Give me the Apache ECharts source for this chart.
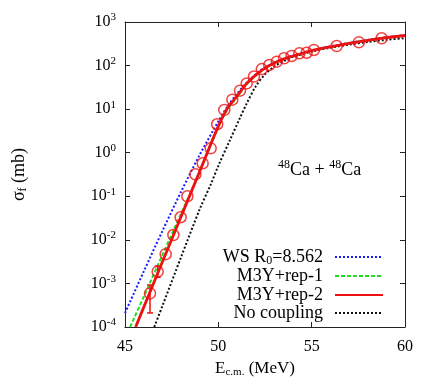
<!DOCTYPE html>
<html><head><meta charset="utf-8">
<script src="https://cdn.jsdelivr.net/npm/echarts@6/dist/echarts.min.js"></script>
<style>html,body{margin:0;padding:0;background:#fff}#c{width:436px;height:382px}</style>
</head><body><div id="c"></div>
<script>
// Experimental data: E (MeV), sigma (mb)
var expE = [46.34,46.75,47.18,47.59,47.98,48.34,48.77,49.16,49.59,49.94,50.32,50.75,51.16,51.52,51.91,52.33,52.73,53.13,53.52,53.93,54.34,54.73,55.12,56.34,57.53,58.75];
var expSig = [5.9e-4,1.86e-3,4.7e-3,0.0129,0.033,0.10,0.32,0.57,1.26,4.5,9.6,16.5,26.5,39,56,83,103,123,147,166,191,197,228,281,342,423];
// error bars (only visible ones)
var errE = [46.34, 46.75];
var errLow = [2.1e-4, 1.38e-3];
var errHigh = [9.2e-4, 2.5e-3];

// Curves: energies and log10(sigma)
var wsE   = [45,46,47,48,49,50,50.5,51,51.5,52,52.5,53,53.5,54,55,56,57,58,59,60];
var wsLog = [-3.68,-2.73,-1.80,-0.90,-0.05,0.72,1.07,1.35,1.6,1.8,1.96,2.07,2.16,2.23,2.35,2.44,2.52,2.59,2.65,2.70];
var m1E   = [45.27,46,47,48,48.5,49,49.5,50,50.5,51,51.5,52,52.5,53,53.5,54,55,56,57,58,59,60];
var m1Log = [-4,-3.31,-2.35,-1.40,-0.93,-0.43,0.08,0.58,1.0,1.27,1.56,1.77,1.94,2.06,2.15,2.22,2.34,2.43,2.51,2.58,2.64,2.69];
var m2E   = [45.57,46,47,48,49,50,50.5,51,51.5,52,52.5,53,53.5,54,55,56,57,58,59,60];
var m2Log = [-4,-3.55,-2.51,-1.47,-0.43,0.61,1.03,1.3,1.58,1.78,1.94,2.06,2.15,2.22,2.34,2.43,2.51,2.58,2.64,2.69];
var ncE   = [46.57,47,48,49,49.6,50,50.62,51.16,51.52,52,52.5,53,53.5,54,55,56,57,58,59,60];
var ncLog = [-4,-3.52,-2.4,-1.3,-0.72,-0.3,0.29,0.8,1.13,1.52,1.8,1.98,2.1,2.2,2.32,2.41,2.48,2.54,2.59,2.63];

var seriesNames = ['WS R0=8.562','M3Y+rep-1','M3Y+rep-2','No coupling'];
var yTicks = [-4,-3,-2,-1,0,1,2,3];
var xTicks = [45,50,55,60];

function pts(E, L){ return E.map(function(e,i){ return [e, Math.pow(10, L[i])]; }); }

var FONT = '"Liberation Serif","DejaVu Serif",serif';
var chart = echarts.init(document.getElementById('c'), null, {renderer:'canvas'});

function legendFmt(name){
  if (name === seriesNames[0]) return '{n|WS R}{sb|0}{n|=8.562}{g|}';
  return '{n|' + name + '}{g|}';
}
var legRich = {
  n:{fontFamily:FONT,fontSize:18,color:'#000',lineHeight:20},
  sb:{fontFamily:FONT,fontSize:12,color:'#000',verticalAlign:'bottom',lineHeight:12,padding:[7,0,0,0]},
  g:{width:7}
};
var legTops = [248,267,286,304];
var legends = seriesNames.map(function(nm, i){
  return {data:[nm], orient:'vertical', right:52, top:legTops[i], align:'right',
    itemWidth:48, itemHeight:14, padding:0, selectedMode:false,
    itemStyle:{opacity:0, borderWidth:0},
    formatter: legendFmt, textStyle:{rich:legRich}};
});

var axisLineStyle = {show:true, lineStyle:{color:'#222', width:1}};

chart.setOption({
  animation:false,
  backgroundColor:'#fff',
  textStyle:{fontFamily:FONT},
  title:{
    text:'{s|48}{n|Ca + }{s|48}{n|Ca}', left:273, top:154,
    textStyle:{fontWeight:'normal', rich:{
      n:{fontFamily:FONT,fontSize:18,fontWeight:'normal',color:'#000',lineHeight:22},
      s:{fontFamily:FONT,fontSize:12,fontWeight:'normal',color:'#000',verticalAlign:'top',lineHeight:12}
    }}
  },
  legend: legends,
  grid:{left:125,right:31,top:22,bottom:55,outerBoundsMode:'none',containLabel:false},
  xAxis:[
    {type:'value',min:45,max:60,interval:5,position:'bottom',
     axisLine:axisLineStyle, axisTick:{show:true,inside:true,length:5,lineStyle:{color:'#222'}},
     splitLine:{show:false},
     axisLabel:{margin:12,fontFamily:FONT,fontSize:16,color:'#000'},
     name:'{n|E}{sb|c.m.}{n| (MeV)}', nameLocation:'middle', nameGap:33,
     nameTextStyle:{padding:[0,20,0,0], rich:{
       n:{fontFamily:FONT,fontSize:17,color:'#000',lineHeight:18},
       sb:{fontFamily:FONT,fontSize:11,color:'#000',verticalAlign:'bottom',lineHeight:12,padding:[7,0,0,0]}
     }}},
    {type:'value',min:45,max:60,interval:5,position:'top',
     axisLine:axisLineStyle, axisTick:{show:true,inside:true,length:5,lineStyle:{color:'#222'}},
     axisLabel:{show:false}, splitLine:{show:false}}
  ],
  yAxis:[
    {type:'log',logBase:10,min:1e-4,max:1e3,position:'left',
     axisLine:axisLineStyle, axisTick:{show:true,inside:true,length:5,lineStyle:{color:'#222'}},
     splitLine:{show:false}, minorTick:{show:false},
     axisLabel:{margin:9,formatter:function(v){
        var p = Math.round(Math.log10(v));
        return '{b|10}{s|' + p + '}';
      }, rich:{
        b:{fontFamily:FONT,fontSize:16,color:'#000',lineHeight:20},
        s:{fontFamily:FONT,fontSize:11,color:'#000',verticalAlign:'top',lineHeight:11}
      }},
     name:'{n|σ}{sb|f}{n| (mb)}', nameLocation:'middle', nameGap:96, nameRotate:90,
     nameTextStyle:{rich:{
       n:{fontFamily:FONT,fontSize:18,color:'#000',lineHeight:20},
       sb:{fontFamily:FONT,fontSize:12,color:'#000',verticalAlign:'bottom',lineHeight:12,padding:[7,0,0,0]}
     }}},
    {type:'log',logBase:10,min:1e-4,max:1e3,position:'right',
     axisLine:axisLineStyle, axisTick:{show:true,inside:true,length:5,lineStyle:{color:'#222'}},
     axisLabel:{show:false}, splitLine:{show:false}}
  ],
  series:[
    {name:seriesNames[0], type:'line', data:pts(wsE,wsLog), symbol:'none', smooth:0.3, clip:true,
     lineStyle:{color:'#1a1aff', width:2, type:[2,2]}, z:2},
    {name:seriesNames[1], type:'line', data:pts(m1E,m1Log), symbol:'none', smooth:0.3, clip:true,
     lineStyle:{color:'#22dd22', width:2, type:[4,2]}, z:3},
    {name:seriesNames[2], type:'line', data:pts(m2E,m2Log), symbol:'none', smooth:0.3, clip:true,
     lineStyle:{color:'#ee1111', width:2.8}, z:4},
    {name:seriesNames[3], type:'line', data:pts(ncE,ncLog), symbol:'none', smooth:0.3, clip:true,
     lineStyle:{color:'#111', width:2, type:[2,2]}, z:2},
    {name:'exp', type:'scatter', data:expE.map(function(e,i){return [e,expSig[i]];}),
     symbol:'circle', symbolSize:11, itemStyle:{color:'rgba(0,0,0,0)', borderColor:'#ee1111', borderWidth:1.5}, z:5},
    {name:'err', type:'custom', z:5,
     data: errE.map(function(e,i){return [e, errLow[i], errHigh[i]];}),
     renderItem:function(params, api){
       var lo = api.coord([api.value(0), api.value(1)]);
       var hi = api.coord([api.value(0), api.value(2)]);
       var st = {stroke:'#ee1111', lineWidth:1.5};
       return {type:'group', children:[
         {type:'line', shape:{x1:lo[0],y1:lo[1],x2:hi[0],y2:hi[1]}, style:st},
         {type:'line', shape:{x1:lo[0]-3,y1:lo[1],x2:lo[0]+3,y2:lo[1]}, style:st},
         {type:'line', shape:{x1:hi[0]-3,y1:hi[1],x2:hi[0]+3,y2:hi[1]}, style:st}
       ]};
     }}
  ]
});
</script></body></html>
